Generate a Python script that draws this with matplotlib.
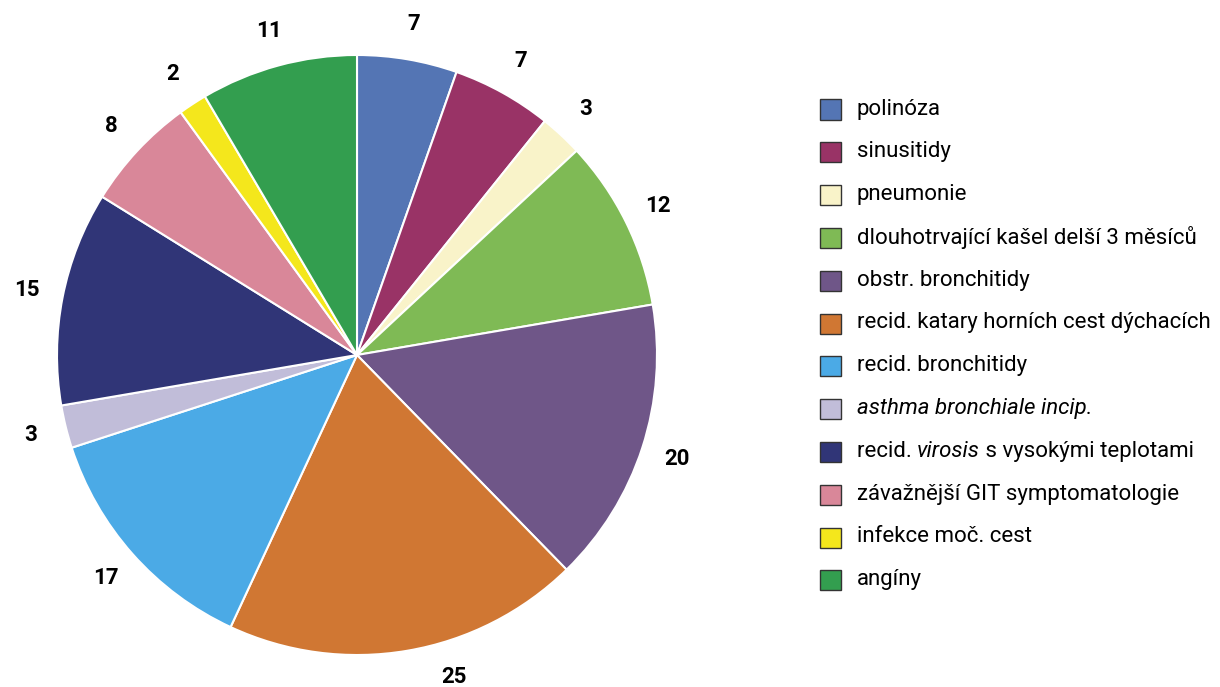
import numpy as np
import matplotlib.pyplot as plt
from matplotlib.patches import Rectangle

# Data
labels = ['polinóza', 'sinusitidy', 'pneumonie', 'dlouhotrvající kašel delší 3 měsíců',
          'obstr. bronchitidy', 'recid. katary horních cest dýchacích', 'recid. bronchitidy',
          'asthma bronchiale incip.', 'recid. virosis s vysokými teplotami',
          'závažnější GIT symptomatologie', 'infekce moč. cest', 'angíny']
values = [7, 7, 3, 12, 20, 25, 17, 3, 15, 8, 2, 11]
colors = ['#5475b4', '#993366', '#f9f3c9', '#7fba55', '#6f5688', '#d07733',
          '#4baae6', '#c1bdd9', '#303577', '#d98799', '#f4e71c', '#339e4f']

plt.rcParams['font.family'] = ['Roboto', 'DejaVu Sans']

W, H = 1220, 687
fig = plt.figure(figsize=(W / 100, H / 100), dpi=100)

# Pie axes: centre (357, 355) px, radius 300 px
cx, cy, r = 357, 355, 300
ax = fig.add_axes([(cx - r) / W, (H - cy - r) / H, 2 * r / W, 2 * r / H])
wedges, texts = ax.pie(values, labels=[str(v) for v in values], colors=colors,
                       startangle=90, counterclock=False, radius=1,
                       labeldistance=1.12,
                       wedgeprops=dict(edgecolor='white', linewidth=1.5),
                       textprops=dict(fontsize=16, fontweight='bold', color='black'))
# centre the value labels on their anchor points
for t in texts:
    t.set_ha('center')
    t.set_va('center')
# the bottom label is pushed a little aside so it stays inside the frame
w = wedges[5]
ang = np.deg2rad((w.theta1 + w.theta2) / 2 + 7)
texts[5].set_position((1.12 * np.cos(ang), 1.12 * np.sin(ang)))

ax.set_xlim(-1, 1)
ax.set_ylim(-1, 1)
ax.set_aspect('equal')
ax.axis('off')

# Legend drawn by hand (mixed italic entries)
renderer = fig.canvas.get_renderer()
x_box, x_text = 820, 857
y0, dy = 109, 42.8
fs = 16
for i, (lab, col) in enumerate(zip(labels, colors)):
    y = y0 + i * dy
    fig.patches.append(Rectangle((x_box / W, (H - y - 10.5) / H), 21 / W, 20 / H,
                                 transform=fig.transFigure, facecolor=col,
                                 edgecolor='#333333', linewidth=1))
    yf = (H - y) / H
    if lab == 'asthma bronchiale incip.':
        fig.text(x_text / W, yf, lab, fontsize=fs, style='italic', va='center')
    elif lab.startswith('recid. virosis'):
        parts = [('recid. ', 'normal'), ('virosis', 'italic'), (' s vysokými teplotami', 'normal')]
        xp = x_text
        for txt, st in parts:
            t = fig.text(xp / W, yf, txt, fontsize=fs, style=st, va='center')
            xp = t.get_window_extent(renderer).x1
    else:
        fig.text(x_text / W, yf, lab, fontsize=fs, va='center')

fig.savefig('out.png', dpi=100)
